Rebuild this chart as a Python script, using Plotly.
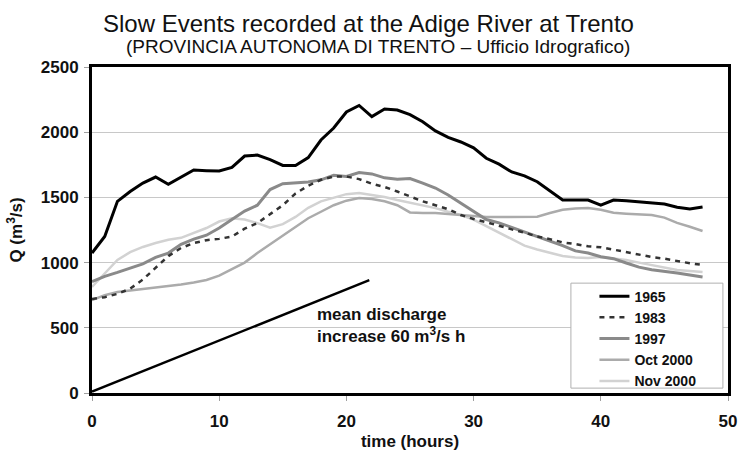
import plotly.graph_objects as go

# Hourly discharge at Trento for five slow flood events (m^3/s)
hours = list(range(49))

q_1965 = [1073, 1200, 1470, 1545, 1610, 1656, 1600, 1655, 1710, 1705,
          1702, 1730, 1817, 1825, 1790, 1745, 1745, 1805, 1940, 2032,
          2155, 2205, 2120, 2178, 2170, 2135, 2080, 2010, 1960, 1925,
          1880, 1800, 1755, 1695, 1665, 1620, 1550, 1480, 1480, 1480,
          1440, 1480, 1475, 1465, 1458, 1449, 1425, 1411, 1426]

q_1983 = [720, 735, 760, 800, 870, 960, 1050, 1112, 1150, 1172,
          1182, 1200, 1260, 1303, 1375, 1440, 1530, 1590, 1635, 1660,
          1660, 1640, 1605, 1580, 1545, 1505, 1470, 1440, 1410, 1365,
          1334, 1310, 1280, 1255, 1230, 1200, 1180, 1155, 1142, 1125,
          1118, 1100, 1080, 1060, 1043, 1030, 1010, 995, 982]

q_1997 = [855, 895, 925, 960, 990, 1040, 1073, 1140, 1180, 1210,
          1265, 1330, 1395, 1440, 1560, 1605, 1612, 1618, 1635, 1670,
          1660, 1690, 1680, 1650, 1640, 1645, 1610, 1572, 1518, 1457,
          1392, 1330, 1305, 1270, 1235, 1205, 1165, 1130, 1090, 1073,
          1045, 1030, 997, 965, 945, 935, 920, 905, 890]

q_oct2000 = [713, 750, 774, 785, 795, 805, 818, 832, 848, 867,
             900, 950, 1000, 1073, 1140, 1205, 1275, 1340, 1390, 1440,
             1475, 1495, 1488, 1470, 1440, 1385, 1380, 1380, 1372, 1365,
             1355, 1350, 1350, 1350, 1350, 1352, 1380, 1405, 1415, 1418,
             1405, 1382, 1375, 1370, 1365, 1345, 1305, 1275, 1242]

q_nov2000 = [813, 920, 1020, 1080, 1120, 1150, 1175, 1190, 1227, 1265,
             1315, 1340, 1330, 1303, 1268, 1295, 1350, 1420, 1470, 1500,
             1525, 1534, 1520, 1503, 1480, 1460, 1440, 1418, 1390, 1365,
             1330, 1280, 1230, 1180, 1130, 1100, 1075, 1050, 1040, 1035,
             1043, 1030, 1020, 1000, 982, 965, 943, 935, 928]

# Reference ramp for the mean rate of rise
ramp_hours = [0, 21.8]
ramp_q = [10, 865]

x_ticks = [0, 10, 20, 30, 40, 50]
y_ticks = [0, 500, 1000, 1500, 2000, 2500]

FONT = "Liberation Sans, Arial, sans-serif"

series = [
    ("1965", q_1965, dict(color="#000000", width=3)),
    ("1983", q_1983, dict(color="#333333", width=2.5, dash="5px,5px")),
    ("1997", q_1997, dict(color="#8a8a8a", width=3)),
    ("Oct 2000", q_oct2000, dict(color="#ababab", width=2.5)),
    ("Nov 2000", q_nov2000, dict(color="#d2d2d2", width=2.5)),
]
names = [s[0] for s in series]

fig = go.Figure()

fig.add_trace(go.Scatter(x=ramp_hours, y=ramp_q, mode="lines",
                         line=dict(color="#000000", width=2.5),
                         showlegend=False, hoverinfo="skip"))

# Draw light lines first so darker ones sit on top
for name, q, line in reversed(series):
    fig.add_trace(go.Scatter(x=hours, y=q, mode="lines", name=name,
                             line=line, legendrank=names.index(name)))

axis_common = dict(
    showline=True, linecolor="#000000", linewidth=3, mirror=True,
    ticks="outside", ticklen=5, tickcolor="#a0a0a0", tickwidth=1,
    tickfont=dict(family=FONT, size=17, color="#111111", weight="bold"),
    zeroline=False,
)

fig.update_layout(
    width=748, height=460,
    margin=dict(l=92, r=11, t=67, b=67),
    paper_bgcolor="white", plot_bgcolor="white",
    font=dict(family=FONT, color="#111111"),
    xaxis=dict(range=[0, 50], tickvals=x_ticks, showgrid=False,
               ticklabelstandoff=6,
               title=dict(text="<b>time (hours)</b>", font=dict(size=17), standoff=5),
               **axis_common),
    yaxis=dict(range=[0, 2500], tickvals=y_ticks, showgrid=True,
               gridcolor="#c8c8c8", gridwidth=1, ticklabelstandoff=2,
               title=dict(text="<b>Q (m<sup>3</sup>/s)</b>", font=dict(size=17), standoff=14),
               **axis_common),
    legend=dict(x=0.79, y=0.345, xanchor="left", yanchor="top",
                bgcolor="rgba(0,0,0,0)", borderwidth=0,
                font=dict(family=FONT, size=14, weight="bold"),
                tracegroupgap=0, itemwidth=30),
    shapes=[dict(type="rect", xref="paper", yref="paper",
                 x0=0.753, x1=0.992, y0=0.015, y1=0.337,
                 fillcolor="white", line=dict(color="#b0b0b0", width=1),
                 layer="above")],
    annotations=[
        dict(text="Slow Events recorded at the Adige River at Trento",
             xref="paper", yref="paper", x=0.434, y=1.0, yshift=44, yanchor="middle",
             showarrow=False, font=dict(family=FONT, size=24, color="#111111")),
        dict(text="(PROVINCIA AUTONOMA DI TRENTO \u2013 Ufficio Idrografico)",
             xref="paper", yref="paper", x=0.45, y=1.0, yshift=21, yanchor="middle",
             showarrow=False, font=dict(family=FONT, size=19, color="#111111")),
        dict(text="<b>mean discharge<br>increase 60 m<sup>3</sup>/s h</b>",
             xref="x", yref="y", x=17.5, y=514, xanchor="left", yanchor="middle",
             align="left", showarrow=False,
             font=dict(family=FONT, size=17, color="#111111")),
    ],
)

fig.write_html("out.html")
